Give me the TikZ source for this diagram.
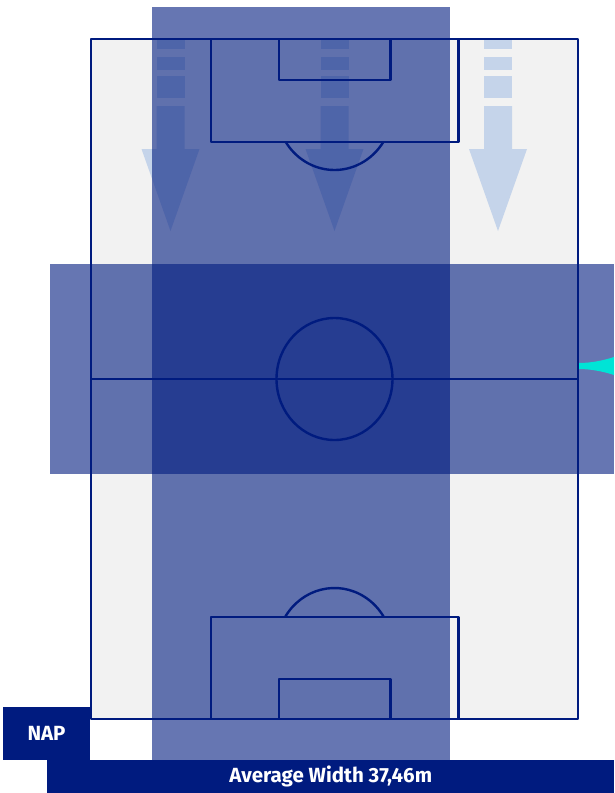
\documentclass[tikz,border=0pt]{standalone}
\usepackage{fontspec}
\setmainfont{Fira Sans}
\usetikzlibrary{positioning}

\definecolor{navy}{RGB}{0,27,127}
\definecolor{pitchgrey}{RGB}{242,242,242}
\definecolor{arrowblue}{RGB}{197,212,234}
\definecolor{runcyan}{RGB}{0,228,214}

\tikzset{
  pitchline/.style={draw=navy, line width=2.4pt, line join=round},
  band/.style={fill=navy, fill opacity=0.6},
  runarrow/.style={fill=arrowblue},
  labelbox/.style={fill=navy, text=white, font=\bfseries\fontsize{20.5}{20.5}\selectfont, inner sep=0pt}
}

\begin{document}
\begin{tikzpicture}[x=1pt,y=-1pt]
    \useasboundingbox (0,0) rectangle (614,793);

    % Pitch
    \fill[pitchgrey] (91,39) rectangle (578,719);

    % Runs down the pitch
    \foreach \x in {170.5,334.5,498}{
        \fill[runarrow] (\x-14,39) rectangle (\x+14,49);
        \fill[runarrow] (\x-14,57) rectangle (\x+14,70);
        \fill[runarrow] (\x-14,76) rectangle (\x+14,98);
        \fill[runarrow] (\x-14,106) -- (\x-14,149) -- (\x-29,149) -- (\x,231)
            -- (\x+29,149) -- (\x+14,149) -- (\x+14,106) -- cycle;
    }

    % Width bands
    \fill[band] (152,7) rectangle (450,760);
    \fill[band] (50,264) rectangle (614,474);

    % Pitch lines
    \draw[pitchline] (91,39) rectangle (578,719);
    \draw[pitchline] (91,379) -- (578,379);
    \draw[pitchline] (334.5,379) ellipse [x radius=58, y radius=61];
    \draw[pitchline] (211,39) rectangle (458.5,142);
    \draw[pitchline] (279,39) rectangle (390.5,80);
    \draw[pitchline] (383.3,142) arc [start angle=32.75, end angle=147.25, x radius=58, y radius=61];
    \draw[pitchline] (211,719) rectangle (458.5,617);
    \draw[pitchline] (279,719) rectangle (390.5,679);
    \draw[pitchline] (285.1,617) arc [start angle=211.64, end angle=328.36, x radius=58, y radius=61];

    % Ball entry
    \fill[runcyan] (579,363) .. controls (592,363) and (605,360) .. (614,357) -- (614,375)
        .. controls (605,372) and (592,369) .. (579,369) -- cycle;

    % Labels
    \node[labelbox, minimum width=87pt, minimum height=53pt] (team) at (46.5,733.5) {NAP};
    \node[labelbox, minimum width=567pt, minimum height=33pt, anchor=north west] (avgwidth) at (47,760) {Average Width 37,46m};
\end{tikzpicture}
\end{document}
